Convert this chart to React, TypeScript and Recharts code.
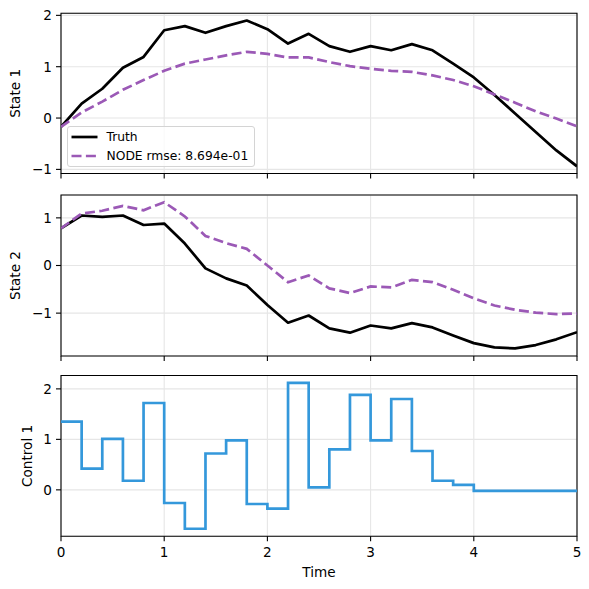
import React from 'react';
import { LineChart, Line, XAxis, YAxis, CartesianGrid, ReferenceArea } from 'recharts';

const FONT = '"DejaVu Sans", sans-serif';

const time = [0, 0.2, 0.4, 0.6, 0.8, 1.0, 1.2, 1.4, 1.6, 1.8, 2.0, 2.2, 2.4, 2.6, 2.8, 3.0, 3.2, 3.4, 3.6, 3.8, 4.0, 4.2, 4.4, 4.6, 4.8, 5.0];

const truth1 = [-0.17, 0.28, 0.57, 0.98, 1.19, 1.71, 1.79, 1.66, 1.79, 1.9, 1.73, 1.45, 1.64, 1.4, 1.29, 1.4, 1.32, 1.44, 1.32, 1.06, 0.79, 0.45, 0.09, -0.27, -0.63, -0.94];
const node1 = [-0.17, 0.11, 0.32, 0.55, 0.74, 0.92, 1.06, 1.14, 1.22, 1.29, 1.25, 1.18, 1.18, 1.09, 1.01, 0.96, 0.92, 0.9, 0.83, 0.74, 0.62, 0.46, 0.3, 0.13, -0.01, -0.16];

const truth2 = [0.78, 1.05, 1.02, 1.05, 0.85, 0.88, 0.46, -0.06, -0.27, -0.42, -0.83, -1.2, -1.05, -1.32, -1.41, -1.26, -1.32, -1.21, -1.3, -1.47, -1.63, -1.72, -1.74, -1.67, -1.55, -1.4];
const node2 = [0.78, 1.09, 1.15, 1.25, 1.16, 1.33, 1.03, 0.62, 0.47, 0.35, 0.0, -0.35, -0.21, -0.48, -0.58, -0.44, -0.46, -0.3, -0.35, -0.51, -0.69, -0.84, -0.93, -0.99, -1.02, -1.01];

const control1 = [1.35, 0.42, 1.01, 0.18, 1.72, -0.26, -0.77, 0.72, 0.98, -0.28, -0.37, 2.12, 0.05, 0.8, 1.88, 0.98, 1.8, 0.77, 0.18, 0.1, -0.02, -0.02, -0.02, -0.02, -0.02, -0.02];

const xTicks = [0, 1, 2, 3, 4, 5];
const yTicks1 = [-1, 0, 1, 2];
const yTicks2 = [-1, 0, 1];
const yTicks3 = [0, 1, 2];

const legendTruth = 'Truth';
const legendNode = 'NODE rmse: 8.694e-01';

const data = time.map((t, i) => ({
  t,
  truth1: truth1[i],
  node1: node1[i],
  truth2: truth2[i],
  node2: node2[i],
  control1: control1[i],
}));

const fmt = (v: number) => String(v).replace('-', '\u2212');
const tickStyle = { fill: '#000', fontSize: 13.6, fontFamily: FONT };
const labelStyle = { textAnchor: 'middle' as const, fontSize: 13.6, fill: '#000', fontFamily: FONT };

type PanelProps = {
  top: number;
  height: number;
  marginTop: number;
  xAxisHeight: number;
  domain: [number, number];
  yTicks: number[];
  yLabel: string;
  yLabelOffset: number;
  showXLabels: boolean;
  children: React.ReactNode;
};

function Panel(p: PanelProps) {
  return (
    <div style={{ position: 'absolute', left: 0, top: p.top, width: 589, height: p.height }}>
      <LineChart width={589} height={p.height} data={data} margin={{ top: p.marginTop, right: 12, bottom: 0, left: 0 }}>
        <CartesianGrid stroke="#e6e6e6" strokeWidth={1.1} />
        <XAxis
          dataKey="t"
          type="number"
          domain={[0, 5]}
          ticks={xTicks}
          allowDataOverflow
          height={p.xAxisHeight}
          axisLine={false}
          tickLine={{ stroke: '#000', strokeWidth: 1.1 }}
          tickSize={5}
          tickMargin={6}
          tick={tickStyle}
          tickFormatter={(v: number) => (p.showXLabels ? fmt(v) : '')}
          label={p.showXLabels ? { value: 'Time', position: 'insideBottom', offset: 12, style: labelStyle } : undefined}
        />
        <YAxis
          type="number"
          domain={p.domain}
          ticks={p.yTicks}
          allowDataOverflow
          width={61}
          axisLine={false}
          tickLine={{ stroke: '#000', strokeWidth: 1.1 }}
          tickSize={5}
          tickMargin={4}
          tick={tickStyle}
          tickFormatter={fmt}
          label={{ value: p.yLabel, angle: -90, position: 'insideLeft', offset: p.yLabelOffset, style: labelStyle }}
        />
        {p.children}
        <ReferenceArea x1={0} x2={5} y1={p.domain[0]} y2={p.domain[1]} fill="none" stroke="#000" strokeWidth={1.1} ifOverflow="visible" />
      </LineChart>
    </div>
  );
}

function LegendBox() {
  return (
    <div
      style={{
        position: 'absolute',
        left: 66.5,
        top: 125.5,
        width: 188,
        height: 41,
        border: '1px solid #d4d4d4',
        borderRadius: 3,
        background: 'rgba(255,255,255,0.8)',
        boxSizing: 'border-box',
      }}
    >
      <svg width={188} height={41} style={{ position: 'absolute', left: -1, top: -1 }}>
        <line x1={4.5} x2={30.5} y1={11} y2={11} stroke="#000" strokeWidth={2.7} />
        <text x={39.5} y={15.4} fontSize={12.3} fontFamily={FONT} fill="#000">{legendTruth}</text>
        <line x1={4.5} x2={30.5} y1={30} y2={30} stroke="#9b59b6" strokeWidth={2.7} strokeDasharray="10 4.4" />
        <text x={39.5} y={34.4} fontSize={12.3} fontFamily={FONT} fill="#000">{legendNode}</text>
      </svg>
    </div>
  );
}

export default function App() {
  return (
    <div style={{ position: 'absolute', left: 0, top: 0, width: 589, height: 589, background: '#fff', fontFamily: FONT }}>
      <Panel top={0} height={184} marginTop={13.3} xAxisHeight={10.5} domain={[-1.08, 2.04]} yTicks={yTicks1} yLabel="State 1" yLabelOffset={15} showXLabels={false}>
        <Line type="linear" dataKey="truth1" stroke="#000" strokeWidth={2.7} dot={false} isAnimationActive={false} strokeLinejoin="round" />
        <Line type="linear" dataKey="node1" stroke="#9b59b6" strokeWidth={2.7} strokeDasharray="10 4.4" dot={false} isAnimationActive={false} />
      </Panel>
      <Panel top={184} height={182} marginTop={11} xAxisHeight={10} domain={[-1.9, 1.48]} yTicks={yTicks2} yLabel="State 2" yLabelOffset={15} showXLabels={false}>
        <Line type="linear" dataKey="truth2" stroke="#000" strokeWidth={2.7} dot={false} isAnimationActive={false} strokeLinejoin="round" />
        <Line type="linear" dataKey="node2" stroke="#9b59b6" strokeWidth={2.7} strokeDasharray="10 4.4" dot={false} isAnimationActive={false} />
      </Panel>
      <Panel top={366} height={223} marginTop={9.5} xAxisHeight={52.7} domain={[-0.92, 2.265]} yTicks={yTicks3} yLabel="Control 1" yLabelOffset={27.5} showXLabels={true}>
        <Line type="stepAfter" dataKey="control1" stroke="#3498db" strokeWidth={2.7} dot={false} isAnimationActive={false} />
      </Panel>
      <LegendBox />
    </div>
  );
}
